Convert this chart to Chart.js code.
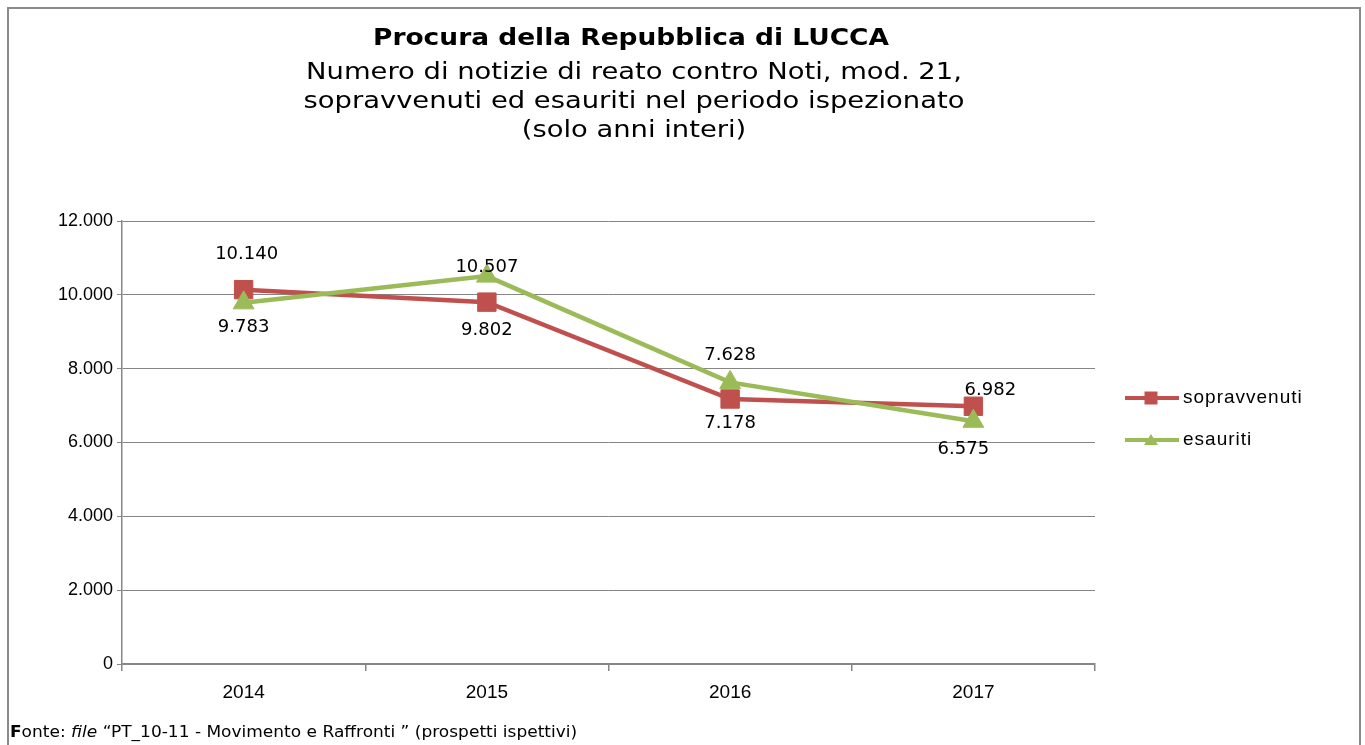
<!DOCTYPE html>
<html lang="it">
<head>
<meta charset="utf-8">
<title>Procura della Repubblica di LUCCA</title>
<script src="https://cdn.jsdelivr.net/npm/chart.js@4.4.1/dist/chart.umd.min.js"></script>
<style>
    html, body { margin: 0; padding: 0; background: #fff; }
    #wrap { position: relative; width: 1365px; height: 745px; overflow: hidden; }
    #cornice {
        position: absolute; left: 7px; top: 7px; width: 1354px; height: 800px;
        border: 2px solid #8a8a8a; box-sizing: border-box;
    }
    #grafico { position: absolute; left: 0; top: 0; }
    #fonte {
        position: absolute; left: 10px; top: 723px; white-space: nowrap;
        font: 15.5px "DejaVu Sans", Verdana, sans-serif; color: #000;
        transform: scaleX(1.097); transform-origin: left top;
    }
</style>
</head>
<body>
<div id="wrap">
    <div id="cornice"></div>
    <canvas id="grafico" width="1365" height="745"></canvas>
    <div id="fonte"><b>F</b>onte: <i>file</i> “PT_10-11 - Movimento e Raffronti ” (prospetti ispettivi)</div>
</div>
<script>
// dati
const anni = ['2014', '2015', '2016', '2017'];
const sopravvenuti = [10140, 9802, 7178, 6982];
const esauriti = [9783, 10507, 7628, 6575];
const tickY = [0, 2000, 4000, 6000, 8000, 10000, 12000];

const titolo = 'Procura della Repubblica di LUCCA';
const sottotitolo = [
    'Numero di notizie di reato contro Noti, mod. 21,',
    'sopravvenuti ed esauriti nel periodo ispezionato',
    '(solo anni interi)'
];

// spostamento delle etichette rispetto al punto (come nel foglio originale)
const spostSopravvenuti = [[3, -35], [0, 28], [0, 24], [17, -16]];
const spostEsauriti = [[0, 24], [0, -9], [0, -27], [-10, 28]];

const rosso = '#C0504D';
const verde = '#9BBB59';

const formatoIt = v => String(v).replace(/\B(?=(\d{3})+(?!\d))/g, '.');

// testo allargato in orizzontale come nell'immagine originale
function testoLargo(ctx, testo, x, y, sx) {
    ctx.save();
    ctx.translate(x, y);
    ctx.scale(sx, 1);
    ctx.fillText(testo, 0, 0);
    ctx.restore();
}

// titolo su piu' righe
const titoloPlugin = {
    id: 'titolo',
    afterDraw(chart) {
        const ctx = chart.ctx;
        const cx = 631;
        ctx.save();
        ctx.fillStyle = '#000';
        ctx.textAlign = 'center';
        ctx.textBaseline = 'middle';
        ctx.font = 'bold 23px "DejaVu Sans", Verdana, sans-serif';
        testoLargo(ctx, titolo, cx, 39, 1.15);
        ctx.font = '23px "DejaVu Sans", Verdana, sans-serif';
        sottotitolo.forEach((riga, i) => testoLargo(ctx, riga, cx + 3, 73 + i * 29, 1.19));
        ctx.restore();
    }
};

// etichette dei valori
const etichettePlugin = {
    id: 'etichette',
    afterDatasetsDraw(chart) {
        const ctx = chart.ctx;
        ctx.save();
        ctx.fillStyle = '#000';
        ctx.textAlign = 'center';
        ctx.textBaseline = 'middle';
        ctx.font = '18px "DejaVu Sans", Verdana, sans-serif';
        chart.data.datasets.forEach((ds, i) => {
            const meta = chart.getDatasetMeta(i);
            meta.data.forEach((pt, j) => {
                const [dx, dy] = ds.spostamenti[j];
                ctx.fillText(formatoIt(ds.data[j]), pt.x + dx, pt.y + dy);
            });
        });
        ctx.restore();
    }
};

// legenda con linea e marcatore
const legendaPlugin = {
    id: 'legenda',
    afterDraw(chart) {
        const ctx = chart.ctx;
        const x0 = chart.chartArea.right + 30;
        ctx.save();
        chart.data.datasets.forEach((ds, i) => {
            const y = 398 + i * 42;
            ctx.strokeStyle = ds.borderColor;
            ctx.fillStyle = ds.borderColor;
            ctx.lineWidth = 4;
            ctx.beginPath();
            ctx.moveTo(x0, y);
            ctx.lineTo(x0 + 54, y);
            ctx.stroke();
            const mx = x0 + 26;
            ctx.beginPath();
            if (ds.pointStyle === 'rect') {
                ctx.rect(mx - 6.5, y - 6.5, 13, 13);
            } else {
                ctx.moveTo(mx, y - 6);
                ctx.lineTo(mx + 7, y + 5);
                ctx.lineTo(mx - 7, y + 5);
                ctx.closePath();
            }
            ctx.fill();
            ctx.fillStyle = '#000';
            ctx.font = '19px "Liberation Sans", Arial, sans-serif';
            ctx.letterSpacing = '1px';
            ctx.textAlign = 'left';
            ctx.textBaseline = 'middle';
            ctx.fillText(ds.label, x0 + 58, y);
            ctx.letterSpacing = '0px';
        });
        ctx.restore();
    }
};

const chart = new Chart(document.getElementById('grafico').getContext('2d'), {
    type: 'line',
    data: {
        labels: anni,
        datasets: [
            {
                label: 'sopravvenuti',
                data: sopravvenuti,
                spostamenti: spostSopravvenuti,
                borderColor: rosso,
                backgroundColor: rosso,
                borderWidth: 4.5,
                pointStyle: 'rect',
                pointRadius: 13,
                pointBorderWidth: 1,
                pointBackgroundColor: rosso,
                pointBorderColor: rosso,
                tension: 0,
                order: 1
            },
            {
                label: 'esauriti',
                data: esauriti,
                spostamenti: spostEsauriti,
                borderColor: verde,
                backgroundColor: verde,
                borderWidth: 4.5,
                pointStyle: 'triangle',
                pointRadius: 12,
                pointBorderWidth: 1,
                pointBackgroundColor: verde,
                pointBorderColor: verde,
                tension: 0,
                order: 0
            }
        ]
    },
    options: {
        responsive: false,
        animation: false,
        events: [],
        layout: { padding: { top: 221, left: 0, right: 270, bottom: 41 } },
        plugins: {
            legend: { display: false },
            title: { display: false },
            tooltip: { enabled: false }
        },
        scales: {
            x: {
                offset: true,
                grid: {
                    offset: true,
                    drawOnChartArea: false,
                    drawTicks: true,
                    tickLength: 7,
                    color: '#868686',
                    lineWidth: 1.5
                },
                border: { display: true, color: '#868686', width: 1.5 },
                ticks: {
                    padding: 10,
                    color: '#000',
                    font: { family: '"Liberation Sans", Arial, sans-serif', size: 19 }
                },
                afterFit: s => { s.height = 40; }
            },
            y: {
                min: 0,
                max: 12000,
                afterBuildTicks: s => { s.ticks = tickY.map(v => ({ value: v })); },
                grid: {
                    color: '#868686',
                    lineWidth: 1,
                    tickLength: 5
                },
                border: { display: true, color: '#868686', width: 1.5 },
                ticks: {
                    padding: 4,
                    color: '#000',
                    font: { family: '"Liberation Sans", Arial, sans-serif', size: 18 },
                    callback: v => formatoIt(v)
                },
                afterFit: s => { s.width = 122; }
            }
        }
    },
    plugins: [titoloPlugin, etichettePlugin, legendaPlugin]
});
</script>
</body>
</html>
